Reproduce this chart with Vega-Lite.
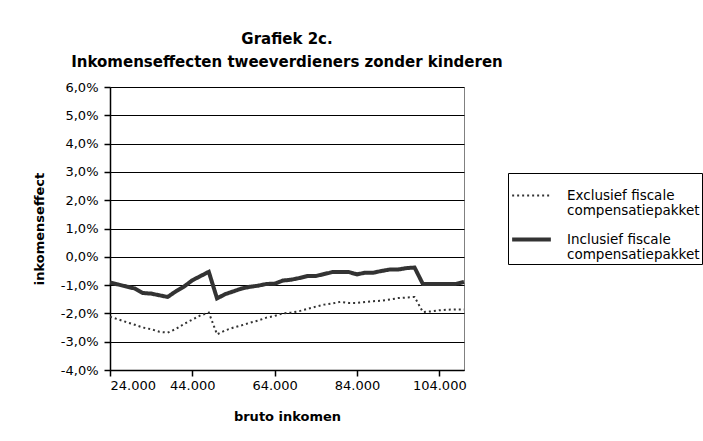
{
  "$schema": "https://vega.github.io/schema/vega-lite/v6.json",
  "width": 354,
  "height": 283,
  "autosize": {"type": "none"},
  "padding": {"left": 110, "top": 87, "right": 239, "bottom": 71},
  "background": "white",
  "title": {
    "text": ["Grafiek 2c.", "Inkomenseffecten tweeverdieners zonder kinderen"],
    "font": "DejaVu Sans",
    "fontSize": 15,
    "fontWeight": "bold",
    "color": "black",
    "lineHeight": 23,
    "anchor": "middle",
    "frame": "group",
    "offset": 11
  },
  "data": {
    "values": [
      {"inkomen": 24000, "Exclusief": -0.0212, "Inclusief": -0.0091},
      {"inkomen": 26000, "Exclusief": -0.0221, "Inclusief": -0.0098},
      {"inkomen": 28000, "Exclusief": -0.0231, "Inclusief": -0.0105},
      {"inkomen": 30000, "Exclusief": -0.0240, "Inclusief": -0.0112},
      {"inkomen": 32000, "Exclusief": -0.0250, "Inclusief": -0.0128},
      {"inkomen": 34000, "Exclusief": -0.0256, "Inclusief": -0.0130},
      {"inkomen": 36000, "Exclusief": -0.0265, "Inclusief": -0.0136},
      {"inkomen": 38000, "Exclusief": -0.0268, "Inclusief": -0.0142},
      {"inkomen": 40000, "Exclusief": -0.0255, "Inclusief": -0.0122},
      {"inkomen": 42000, "Exclusief": -0.0237, "Inclusief": -0.0105},
      {"inkomen": 44000, "Exclusief": -0.0222, "Inclusief": -0.0083},
      {"inkomen": 46000, "Exclusief": -0.0207, "Inclusief": -0.0068},
      {"inkomen": 48000, "Exclusief": -0.0197, "Inclusief": -0.0053},
      {"inkomen": 50000, "Exclusief": -0.0274, "Inclusief": -0.0147},
      {"inkomen": 52000, "Exclusief": -0.0260, "Inclusief": -0.0132},
      {"inkomen": 54000, "Exclusief": -0.0250, "Inclusief": -0.0122},
      {"inkomen": 56000, "Exclusief": -0.0242, "Inclusief": -0.0112},
      {"inkomen": 58000, "Exclusief": -0.0233, "Inclusief": -0.0106},
      {"inkomen": 60000, "Exclusief": -0.0225, "Inclusief": -0.0102},
      {"inkomen": 62000, "Exclusief": -0.0215, "Inclusief": -0.0096},
      {"inkomen": 64000, "Exclusief": -0.0209, "Inclusief": -0.0095},
      {"inkomen": 66000, "Exclusief": -0.0200, "Inclusief": -0.0084},
      {"inkomen": 68000, "Exclusief": -0.0197, "Inclusief": -0.0081},
      {"inkomen": 70000, "Exclusief": -0.0192, "Inclusief": -0.0075},
      {"inkomen": 72000, "Exclusief": -0.0184, "Inclusief": -0.0068},
      {"inkomen": 74000, "Exclusief": -0.0176, "Inclusief": -0.0068},
      {"inkomen": 76000, "Exclusief": -0.0169, "Inclusief": -0.0061},
      {"inkomen": 78000, "Exclusief": -0.0165, "Inclusief": -0.0054},
      {"inkomen": 80000, "Exclusief": -0.0159, "Inclusief": -0.0054},
      {"inkomen": 82000, "Exclusief": -0.0163, "Inclusief": -0.0054},
      {"inkomen": 84000, "Exclusief": -0.0163, "Inclusief": -0.0062},
      {"inkomen": 86000, "Exclusief": -0.0160, "Inclusief": -0.0056},
      {"inkomen": 88000, "Exclusief": -0.0157, "Inclusief": -0.0056},
      {"inkomen": 90000, "Exclusief": -0.0155, "Inclusief": -0.0050},
      {"inkomen": 92000, "Exclusief": -0.0151, "Inclusief": -0.0045},
      {"inkomen": 94000, "Exclusief": -0.0146, "Inclusief": -0.0045},
      {"inkomen": 96000, "Exclusief": -0.0144, "Inclusief": -0.0040},
      {"inkomen": 98000, "Exclusief": -0.0142, "Inclusief": -0.0038},
      {"inkomen": 100000, "Exclusief": -0.0195, "Inclusief": -0.0096},
      {"inkomen": 102000, "Exclusief": -0.0193, "Inclusief": -0.0096},
      {"inkomen": 104000, "Exclusief": -0.0189, "Inclusief": -0.0096},
      {"inkomen": 106000, "Exclusief": -0.0187, "Inclusief": -0.0096},
      {"inkomen": 108000, "Exclusief": -0.0186, "Inclusief": -0.0096},
      {"inkomen": 110000, "Exclusief": -0.0186, "Inclusief": -0.0089}
    ]
  },
  "transform": [
    {"fold": ["Exclusief", "Inclusief"], "as": ["serie", "effect"]}
  ],
  "mark": {"type": "line", "interpolate": "linear", "clip": false},
  "encoding": {
    "x": {
      "field": "inkomen",
      "type": "quantitative",
      "scale": {"domain": [24000, 110000], "nice": false, "zero": false},
      "axis": {
        "title": "bruto inkomen",
        "format": ",d",
        "values": [24000, 44000, 64000, 84000, 104000],
        "grid": false,
        "tickSize": 6,
        "labelPadding": 3,
        "titlePadding": 18
      }
    },
    "y": {
      "field": "effect",
      "type": "quantitative",
      "scale": {"domain": [-0.04, 0.06], "nice": false, "zero": false},
      "axis": {
        "title": "inkomenseffect",
        "format": ".1%",
        "values": [-0.04, -0.03, -0.02, -0.01, 0, 0.01, 0.02, 0.03, 0.04, 0.05, 0.06],
        "grid": true,
        "tickSize": 6,
        "labelPadding": 6,
        "titlePadding": 14
      }
    },
    "color": {
      "field": "serie",
      "type": "nominal",
      "title": null,
      "scale": {"domain": ["Exclusief", "Inclusief"], "range": ["#333333", "#333333"]},
      "legend": {"labelExpr": "[datum.label + ' fiscale', 'compensatiepakket']"}
    },
    "strokeDash": {
      "field": "serie",
      "type": "nominal",
      "title": null,
      "scale": {"domain": ["Exclusief", "Inclusief"], "range": [[2, 3], [1, 0]]},
      "legend": {"labelExpr": "[datum.label + ' fiscale', 'compensatiepakket']"}
    },
    "strokeWidth": {
      "field": "serie",
      "type": "nominal",
      "title": null,
      "scale": {"domain": ["Exclusief", "Inclusief"], "range": [2, 4]},
      "legend": {"labelExpr": "[datum.label + ' fiscale', 'compensatiepakket']"}
    }
  },
  "config": {
    "locale": {
      "number": {"decimal": ",", "thousands": ".", "grouping": [3], "currency": ["€ ", ""], "minus": "-"}
    },
    "font": "DejaVu Sans",
    "view": {"stroke": "#808080", "strokeWidth": 1},
    "axis": {
      "domainColor": "black",
      "domainWidth": 1.5,
      "tickColor": "black",
      "tickWidth": 1.5,
      "gridColor": "black",
      "gridWidth": 1.2,
      "gridOpacity": 1,
      "labelFont": "DejaVu Sans",
      "labelFontSize": 13,
      "labelColor": "black",
      "titleFont": "DejaVu Sans",
      "titleFontSize": 13,
      "titleFontWeight": "bold",
      "titleColor": "black"
    },
    "legend": {
      "orient": "none",
      "legendX": 398,
      "legendY": 86,
      "strokeColor": "black",
      "padding": 2,
      "symbolType": "stroke",
      "symbolSize": 1500,
      "labelOffset": 14,
      "rowPadding": 0,
      "labelLineHeight": 15,
      "labelBaseline": "middle",
      "labelFont": "DejaVu Sans",
      "labelFontSize": 13.5,
      "labelColor": "black"
    }
  }
}
